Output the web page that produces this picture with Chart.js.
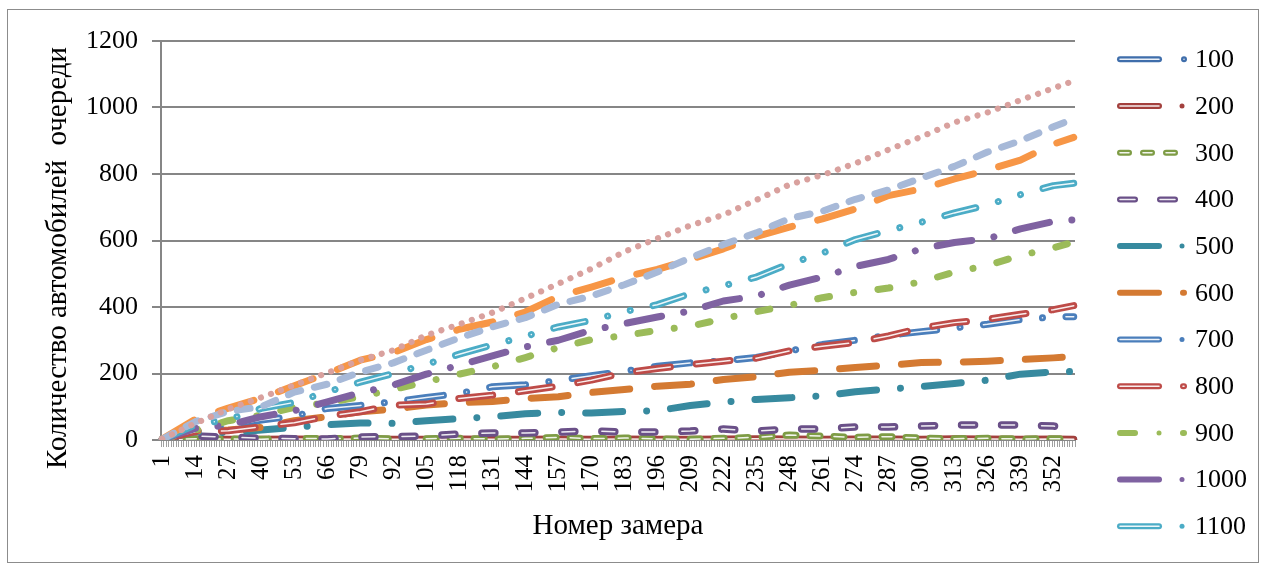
<!DOCTYPE html>
<html><head><meta charset="utf-8">
<script src="https://cdn.jsdelivr.net/npm/chart.js@4.4.1/dist/chart.umd.min.js"></script>
<style>html,body{margin:0;padding:0;background:#fff;}#wrap{width:1265px;height:567px;position:relative;}</style>
</head><body><div id="wrap"><canvas id="c" width="1265" height="567"></canvas></div>
<script>
// ---- data ----
const categories = Array.from({length: 360}, (_, i) => String(i + 1));
const sampleCats = [1,14,27,40,53,66,79,92,105,118,131,144,157,170,183,196,209,222,235,248,261,274,287,300,313,326,339,352,360];
const seriesNames = ['100','200','300','400','500','600','700','800','900','1000','1100','1200','1300','1400'];
const s100 = [0,1,1,0,1,1,0,1,1,0,1,1,0,1,1,0,1,1,0,1,1,0,1,1,0,1,1,0,1];
const s200 = [0,3,2,2,3,2,3,2,2,3,2,2,3,2,3,2,2,3,4,3,2,3,3,2,4,3,2,3,2];
const s300 = [1,4,3,2,5,4,6,3,4,5,3,5,8,4,6,3,2,5,8,15,12,8,10,6,4,5,3,4,3];
const s400 = [1,12,8,6,4,3,9,10,12,18,21,21,24,27,24,24,27,33,27,33,33,39,39,42,45,45,45,42,36];
const s500 = [2,25,22,30,38,46,51,50,58,64,70,79,83,81,86,88,104,114,122,127,133,145,153,161,170,180,198,205,206];
const s600 = [2,28,30,38,58,70,85,93,105,112,116,125,130,143,152,162,168,182,190,204,210,218,225,233,234,237,242,247,251];
const s700 = [2,30,42,60,72,95,104,115,128,140,160,166,179,193,207,222,232,238,248,268,287,300,315,326,337,348,362,370,371];
const s800 = [2,25,28,40,52,71,85,105,108,125,135,148,162,180,202,215,227,237,246,268,282,293,313,337,353,363,378,392,404];
const s900 = [2,30,58,75,98,112,130,152,175,198,220,248,278,302,314,330,342,365,386,405,428,444,457,476,505,525,555,578,595];
const s1000 = [2,35,45,70,88,115,142,165,198,225,253,280,300,330,350,370,388,418,433,466,490,522,543,575,594,605,635,657,662];
const s1100 = [2,45,62,95,113,145,174,200,228,258,286,312,340,360,386,407,440,464,490,530,562,603,630,655,683,707,738,765,772];
const s1200 = [3,62,96,126,163,200,240,263,302,333,355,385,432,460,490,513,543,575,612,640,665,695,735,755,785,812,842,890,910];
const s1300 = [2,55,86,100,144,168,204,232,270,307,340,368,408,433,467,505,548,588,623,666,688,724,752,788,823,866,900,942,966];
const s1400 = [3,50,93,128,165,202,240,270,315,348,383,426,470,515,566,606,645,677,722,768,797,832,873,912,955,985,1022,1058,1080];
const yTicks = [0,200,400,600,800,1000,1200];
const seriesValues = [s100,s200,s300,s400,s500,s600,s700,s800,s900,s1000,s1100,s1200,s1300,s1400];

// ---- styles ----
const FONT = "'Liberation Serif', 'Times New Roman', serif";
const styles = [
  {color:'#3F6EAB', w:7,   dbl:true,  dash:[],                 leg:[[0,45],[64,70]]},
  {color:'#A3403D', w:7,   dbl:true,  dash:[],                 leg:[[0,45],[65,65]]},
  {color:'#7E9C45', w:7,   dbl:true,  dash:[10,14],            leg:[[0,15],[23,38],[46,61]]},
  {color:'#6A5088', w:7.5, dbl:true,  dash:[13,27],            leg:[[0,21],[40,61]]},
  {color:'#378A9F', w:7,   dbl:false, dash:[37,24,0.01,24],    leg:[[0,45],[65,65]]},
  {color:'#D47A32', w:7,   dbl:false, dash:[37,25],            leg:[[0,45],[63,70]]},
  {color:'#4A7EBB', w:7,   dbl:true,  dash:[36,23.5,0.01,23.5],leg:[[0,45],[65,65]]},
  {color:'#BE4B48', w:7,   dbl:true,  dash:[34,26],            leg:[[0,45],[63,70]]},
  {color:'#9BBB59', w:7,   dbl:false, dash:[12,24.5,0.01,24.5],leg:[[0,21],[42,42],[63,70]]},
  {color:'#7F62A1', w:7,   dbl:false, dash:[35,22.5,0.01,22.5],leg:[[0,45],[65,65]]},
  {color:'#4BACC6', w:7,   dbl:true,  dash:[32,23.3,0.01,23.3,0.01,23.3], leg:[[0,45],[65,65]]},
  {color:'#F79646', w:7,   dbl:false, dash:[37,26],            leg:null},
  {color:'#A7B9D8', w:7,   dbl:false, dash:[13,14],            leg:null},
  {color:'#D9A19E', w:6.2, dbl:false, dash:[0.01,10.7],        leg:null}
];

const datasets = [];
seriesValues.forEach((vals, i) => {
  const st = styles[i];
  const data = sampleCats.map((c, k) => ({x: String(c), y: vals[k]}));
  datasets.push({label: seriesNames[i], data, borderColor: st.color, borderWidth: st.w,
    borderDash: st.dash, borderCapStyle: 'round', borderJoinStyle: 'round',
    pointRadius: 0, tension: 0, fill: false, order: 100 - 2 * i});
  if (st.dbl) {
    datasets.push({label: seriesNames[i] + ' ', data, borderColor: 'rgba(255,255,255,0.9)', borderWidth: 1.5,
      borderDash: st.dash, borderCapStyle: 'round', borderJoinStyle: 'round',
      pointRadius: 0, tension: 0, fill: false, order: 99 - 2 * i});
  }
});

const decor = {
  id: 'decor',
  afterDraw(chart) {
    const ctx = chart.ctx;
    ctx.save();
    // frame
    ctx.strokeStyle = '#8c8c8c'; ctx.lineWidth = 1;
    ctx.strokeRect(7.5, 9.5, 1251, 553);
    // axis titles
    ctx.fillStyle = '#000';
    ctx.font = '29px ' + FONT;
    ctx.textAlign = 'center'; ctx.textBaseline = 'middle';
    ctx.fillText('Номер замера', 618, 526);
    ctx.save();
    ctx.translate(58, 258); ctx.rotate(-Math.PI / 2);
    ctx.fillText('Количество автомобилей  очереди', 0, 0);
    ctx.restore();
    // legend (first 11 series, as in the original)
    const x0 = 1117, y0 = 59.3, dy = 46.7;
    ctx.font = '26px ' + FONT; ctx.textAlign = 'left';
    for (let i = 0; i < 11; i++) {
      const st = styles[i], y = y0 + i * dy;
      ctx.lineCap = 'round';
      ctx.strokeStyle = st.color;
      st.leg.forEach(([a, b]) => {
        ctx.beginPath();
        if (a === b) { ctx.lineWidth = 5; ctx.moveTo(x0 + a, y); ctx.lineTo(x0 + a + 0.01, y); }
        else { ctx.lineWidth = 6; ctx.moveTo(x0 + a + 3, y); ctx.lineTo(x0 + b - 3, y); }
        ctx.stroke();
      });
      if (st.dbl) {
        ctx.strokeStyle = 'rgba(255,255,255,0.9)'; ctx.lineWidth = 1.5;
        st.leg.forEach(([a, b]) => {
          if (b - a < 5) return;
          ctx.beginPath(); ctx.moveTo(x0 + a + 3, y); ctx.lineTo(x0 + b - 3, y); ctx.stroke();
        });
      }
      ctx.fillStyle = '#000';
      ctx.fillText(seriesNames[i], 1195, y + 1);
    }
    ctx.restore();
  }
};

new Chart(document.getElementById('c'), {
  type: 'line',
  data: {labels: categories, datasets},
  options: {
    responsive: false, animation: false, devicePixelRatio: 1,
    layout: {padding: {left: 0, right: 190, top: 41, bottom: 0}},
    plugins: {legend: {display: false}, tooltip: {enabled: false}},
    scales: {
      x: {
        type: 'category', offset: true,
        grid: {display: true, drawOnChartArea: false, drawTicks: true, tickLength: 7, color: '#a0a0a0', lineWidth: 1, offset: true},
        border: {display: true, color: '#868686', width: 2},
        ticks: {autoSkip: false, minRotation: 90, maxRotation: 90, padding: 8, color: '#000',
          font: {family: FONT, size: 25},
          callback: (v, i) => (i % 13 === 0 ? categories[i] : '')},
        afterFit: s => { s.height = 127; }
      },
      y: {
        min: yTicks[0], max: yTicks[yTicks.length - 1],
        afterBuildTicks: s => { s.ticks = yTicks.map(v => ({value: v})); },
        grid: {color: '#868686', lineWidth: 2, tickLength: 9, drawTicks: true},
        border: {display: true, color: '#868686', width: 2},
        ticks: {padding: 14, color: '#000', font: {family: FONT, size: 26}, callback: v => String(v)},
        afterFit: s => { s.width = 161; }
      }
    }
  },
  plugins: [decor]
});
</script></body></html>
